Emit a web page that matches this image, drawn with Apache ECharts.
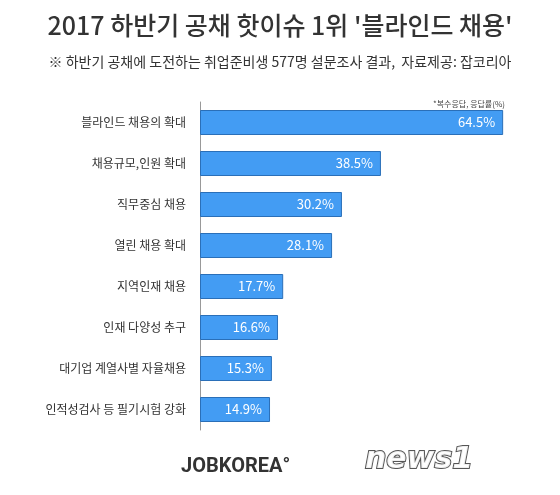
<!DOCTYPE html>
<html><head><meta charset="utf-8">
<script src="https://cdn.jsdelivr.net/npm/echarts@6/dist/echarts.min.js"></script>
<style>html,body{margin:0;padding:0;background:#fff}#c{width:560px;height:495px}</style>
</head><body><div id="c"></div>
<script>
const categories = ['블라인드 채용의 확대','채용규모,인원 확대','직무중심 채용','열린 채용 확대','지역인재 채용','인재 다양성 추구','대기업 계열사별 자율채용','인적성검사 등 필기시험 강화'];
const values = [64.5,38.5,30.2,28.1,17.7,16.6,15.3,14.9];
const F = '"Noto Sans CJK KR", sans-serif';
const chart = echarts.init(document.getElementById('c'));
chart.setOption({
  backgroundColor:'#fff',
  title:[
    {text:"2017 하반기 공채 핫이슈 1위 '블라인드 채용'",left:'center',top:8,textStyle:{fontFamily:F,fontSize:25,fontWeight:500,color:'#333'}},
    {text:'※ 하반기 공채에 도전하는 취업준비생 577명 설문조사 결과,  자료제공: 잡코리아',left:'center',top:50,textStyle:{fontFamily:F,fontSize:14,fontWeight:'normal',color:'#333'}},
    {text:'*복수응답, 응답률(%)',right:50,top:95,textStyle:{fontFamily:F,fontSize:8,fontWeight:'normal',color:'#444'}},
    {text:'JOBKOREA°',left:176,top:452,textStyle:{fontFamily:'Roboto, sans-serif',fontSize:20,fontWeight:'bold',color:'#333'}},
    {text:'news1',left:360,top:440,textStyle:{fontFamily:'"DejaVu Sans", sans-serif',fontSize:30,fontStyle:'italic',fontWeight:'bold',color:'rgba(255,255,255,0.9)',textBorderColor:'#555',textBorderWidth:2}}
  ],
  grid:{left:200,right:31,top:102,bottom:65},
  xAxis:{type:'value',min:0,max:70,show:false},
  yAxis:{type:'category',data:categories,inverse:true,
    axisLine:{show:true,lineStyle:{color:'#999',width:1}},axisTick:{show:false},
    axisLabel:{fontFamily:F,fontSize:12,color:'#333',margin:14}},
  series:[{type:'bar',data:values,barWidth:25,
    itemStyle:{color:'#439cf3',borderColor:'#2a6fb8',borderWidth:1},
    label:{show:true,position:'insideRight',formatter:'{c}%',color:'#fff',fontFamily:F,fontSize:13,distance:8}}]
});
</script></body></html>
